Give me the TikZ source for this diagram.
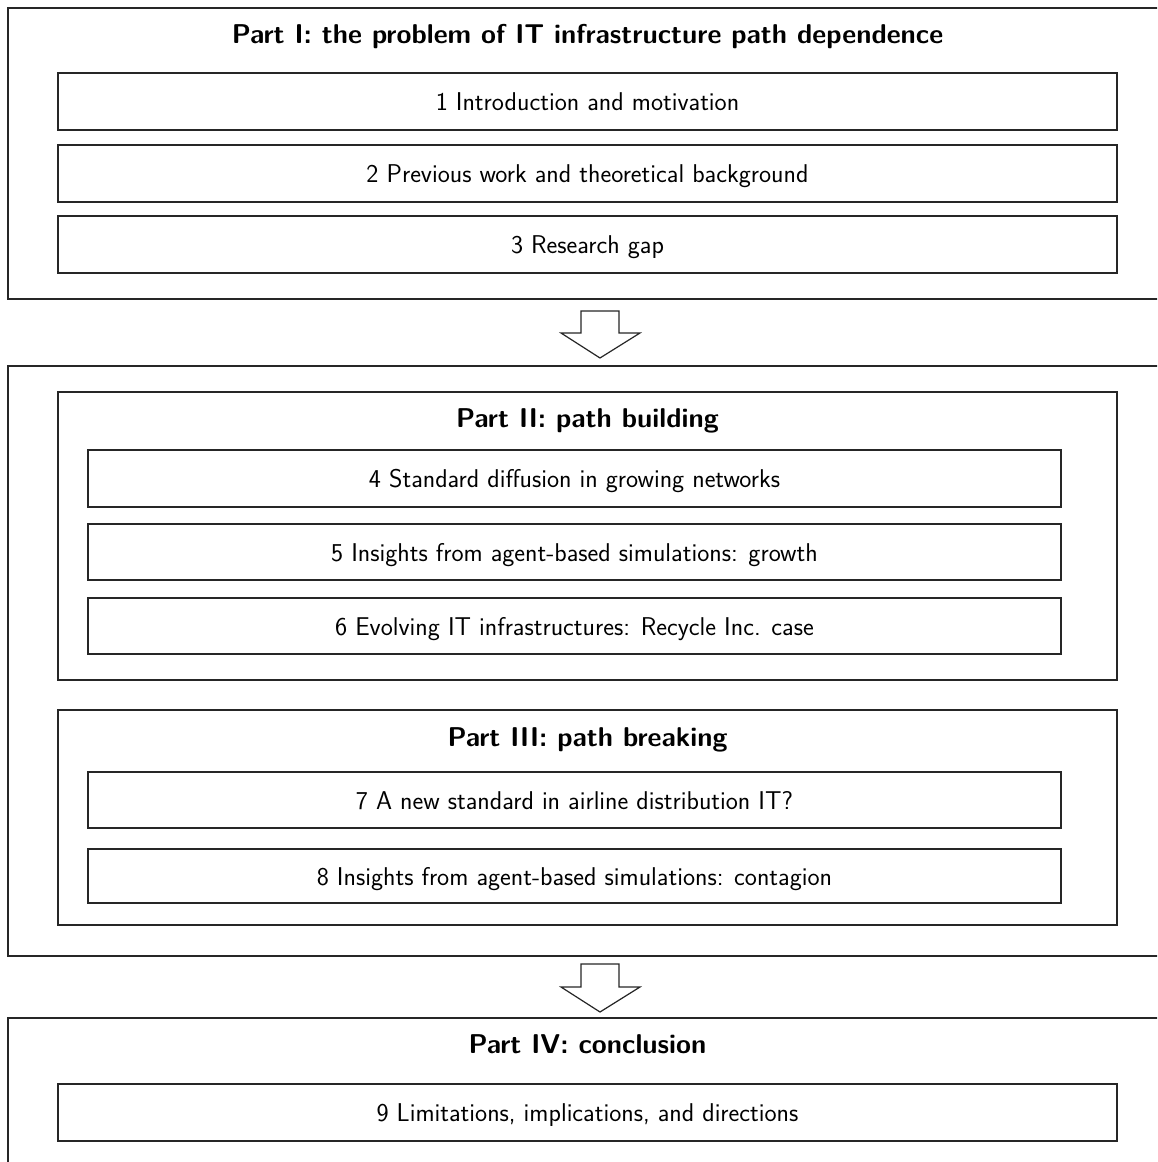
\documentclass[tikz,border=0pt]{standalone}
\usepackage{fontspec}
\begin{document}
\begin{tikzpicture}[x=1pt,y=-1pt,
  frame/.style={draw=black!85,line width=1.4pt,inner sep=0pt},
  box/.style={draw=black!85,line width=1.4pt,inner sep=0pt,text height=23pt,text depth=4.8pt,font=\sffamily\fontsize{25.7}{30}\selectfont},
  ttl/.style={inner sep=0pt,text height=23pt,text depth=4pt,font=\sffamily\bfseries\fontsize{27.2}{32}\selectfont},
  bigarrow/.style={draw=black!85,line width=1.2pt,fill=white,line join=miter}]
\useasboundingbox (0,0) rectangle (1157,1162);
\clip (0,0) rectangle (1157,1162);
% Part I
\node[frame,minimum width=1159pt,minimum height=291pt] (P1) at (587.5,153.5) {};
\node[ttl] (T1) at (587.5,34) {Part I: the problem of IT infrastructure path dependence};
\node[box,minimum width=1059pt,minimum height=57pt] (B1) at (587.5,101.5) {1 Introduction and motivation};
\node[box,minimum width=1059pt,minimum height=57pt] (B2) at (587.5,173.5) {2 Previous work and theoretical background};
\node[box,minimum width=1059pt,minimum height=57pt] (B3) at (587.5,244.5) {3 Research gap};
% Parts II and III
\node[frame,minimum width=1159pt,minimum height=590pt] (P23) at (587.5,661) {};
\node[frame,minimum width=1059pt,minimum height=288pt] (P2) at (587.5,536) {};
\node[ttl] (T2) at (587.5,418) {Part II: path building};
\node[box,minimum width=973pt,minimum height=57pt] (B4) at (574.5,478.5) {4 Standard diffusion in growing networks};
\node[box,minimum width=973pt,minimum height=56pt] (B5) at (574.5,552) {5 Insights from agent-based simulations: growth};
\node[box,minimum width=973pt,minimum height=56pt] (B6) at (574.5,626) {6 Evolving IT infrastructures: Recycle Inc. case};
\node[frame,minimum width=1059pt,minimum height=215pt] (P3) at (587.5,817.5) {};
\node[ttl] (T3) at (587.5,737) {Part III: path breaking};
\node[box,minimum width=973pt,minimum height=56pt] (B7) at (574.5,800) {7 A new standard in airline distribution IT?};
\node[box,minimum width=973pt,minimum height=54pt] (B8) at (574.5,876) {8 Insights from agent-based simulations: contagion};
% Part IV
\node[frame,minimum width=1159pt,minimum height=160pt] (P4) at (587.5,1098) {};
\node[ttl] (T4) at (587.5,1044) {Part IV: conclusion};
\node[box,minimum width=1059pt,minimum height=57pt] (B9) at (587.5,1112.5) {9 Limitations, implications, and directions};
% arrows
\draw[bigarrow] (581,311) -- (619,311) -- (619,333) -- (640,333) -- (600,358) -- (561,333) -- (581,333) -- cycle;
\draw[bigarrow] (581,964) -- (619,964) -- (619,987) -- (640,987) -- (600,1012) -- (561,987) -- (581,987) -- cycle;
\end{tikzpicture}
\end{document}
